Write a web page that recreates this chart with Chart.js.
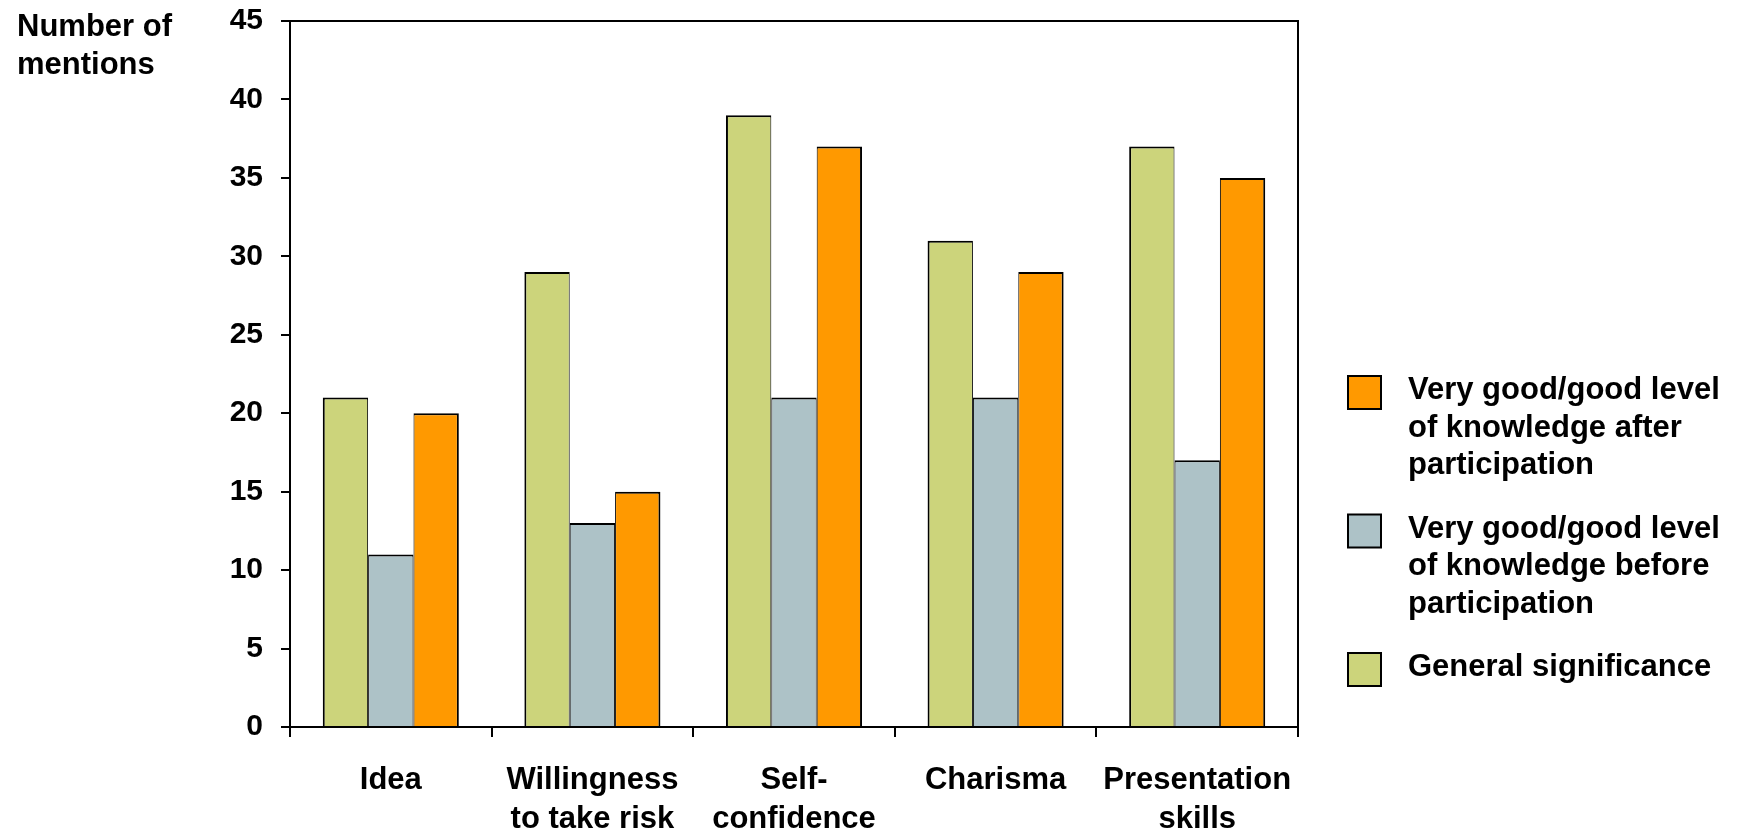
<!DOCTYPE html>
<html>
<head>
<meta charset="utf-8">
<script src="https://cdn.jsdelivr.net/npm/chart.js@4/dist/chart.umd.min.js"></script>
<style>
  html, body { margin: 0; padding: 0; background: #fff; }
  #wrap { width: 1750px; height: 833px; position: relative; }
</style>
</head>
<body>
<div id="wrap"><canvas id="c" width="1750" height="833"></canvas></div>
<script>
// Categories shown on the x axis
const categories = [
  'Idea',
  ['Willingness', 'to take risk'],
  ['Self-', 'confidence'],
  'Charisma',
  ['Presentation', 'skills']
];

// Number of mentions per category
const generalSignificance = [21, 29, 39, 31, 37];
const knowledgeBefore     = [11, 13, 21, 21, 17];
const knowledgeAfter      = [20, 15, 37, 29, 35];

// Series names (legend lines)
const seriesNames = {
  general: ['General significance'],
  before:  ['Very good/good level', 'of knowledge before', 'participation'],
  after:   ['Very good/good level', 'of knowledge after', 'participation']
};

const yTicks = { min: 0, max: 45, step: 5 };
const yTitle = ['Number of', 'mentions'];

const FONT = '"Liberation Sans", Arial, sans-serif';
const COLORS = { general: '#CCD47B', before: '#ADC2C7', after: '#FF9900' };

// Frame around the plot area
const framePlugin = {
  id: 'frame',
  afterDatasetsDraw(chart) {
    const { ctx, chartArea: a } = chart;
    ctx.save();
    ctx.strokeStyle = '#000';
    ctx.lineWidth = 2;
    ctx.beginPath();
    ctx.moveTo(a.left, a.top);
    ctx.lineTo(a.right, a.top);
    ctx.lineTo(a.right, a.bottom);
    ctx.stroke();
    ctx.restore();
  }
};

// Axis title (top-left) and the legend on the right
const textPlugin = {
  id: 'sideText',
  afterDraw(chart) {
    const { ctx, chartArea: a } = chart;
    ctx.save();
    ctx.fillStyle = '#000';
    ctx.font = 'bold 31px ' + FONT;
    ctx.textAlign = 'left';
    ctx.textBaseline = 'alphabetic';
    yTitle.forEach((t, i) => ctx.fillText(t, 17, 36 + i * 37.5));

    // legend in reverse dataset order
    const items = chart.data.datasets.slice().reverse();
    const boxX = a.right + 50, textX = a.right + 110, box = 33, lineH = 37.5, gap = 26;
    let top = 376;
    items.forEach(ds => {
      ctx.fillStyle = ds.backgroundColor;
      ctx.fillRect(boxX, top, box, box);
      ctx.strokeStyle = '#000';
      ctx.lineWidth = 2;
      ctx.strokeRect(boxX, top, box, box);
      ctx.fillStyle = '#000';
      ds.legendLines.forEach((t, i) => ctx.fillText(t, textX, top + 23 + i * lineH));
      top += ds.legendLines.length * lineH + gap;
    });
    ctx.restore();
  }
};

new Chart(document.getElementById('c'), {
  type: 'bar',
  data: {
    labels: categories,
    datasets: [
      { label: seriesNames.general.join(' '), legendLines: seriesNames.general, data: generalSignificance,
        backgroundColor: COLORS.general, borderColor: '#000',
        borderWidth: { left: 2, right: 1, top: 2, bottom: 0 }, borderSkipped: false },
      { label: seriesNames.before.join(' '), legendLines: seriesNames.before, data: knowledgeBefore,
        backgroundColor: COLORS.before, borderColor: '#000',
        borderWidth: { left: 1, right: 1, top: 2, bottom: 0 }, borderSkipped: false },
      { label: seriesNames.after.join(' '), legendLines: seriesNames.after, data: knowledgeAfter,
        backgroundColor: COLORS.after, borderColor: '#000',
        borderWidth: { left: 1, right: 2, top: 2, bottom: 0 }, borderSkipped: false }
    ]
  },
  options: {
    responsive: false,
    animation: false,
    devicePixelRatio: 1,
    categoryPercentage: 0.675,
    barPercentage: 1.0,
    layout: { padding: { left: 0, top: 21, right: 452, bottom: 0 } },
    plugins: { legend: { display: false }, tooltip: { enabled: false } },
    scales: {
      x: {
        offset: true,
        grid: { display: true, drawOnChartArea: false, offset: true, tickLength: 10, color: '#000', lineWidth: 2 },
        border: { display: true, color: '#000', width: 2 },
        ticks: { color: '#000', padding: 24, maxRotation: 0, autoSkip: false,
                 font: { family: FONT, size: 31, weight: 'bold', lineHeight: 1.25 } },
        afterFit(scale) { scale.height = 106; scale.paddingLeft = 0; scale.paddingRight = 0; }
      },
      y: {
        min: yTicks.min, max: yTicks.max,
        grid: { display: true, drawOnChartArea: false, tickLength: 9, color: '#000', lineWidth: 2 },
        border: { display: true, color: '#000', width: 2 },
        ticks: { stepSize: yTicks.step, color: '#000', padding: 18,
                 font: { family: FONT, size: 30, weight: 'bold' } },
        afterFit(scale) { scale.width = 290; scale.paddingTop = 0; scale.paddingBottom = 0; }
      }
    }
  },
  plugins: [framePlugin, textPlugin]
});
</script>
</body>
</html>
